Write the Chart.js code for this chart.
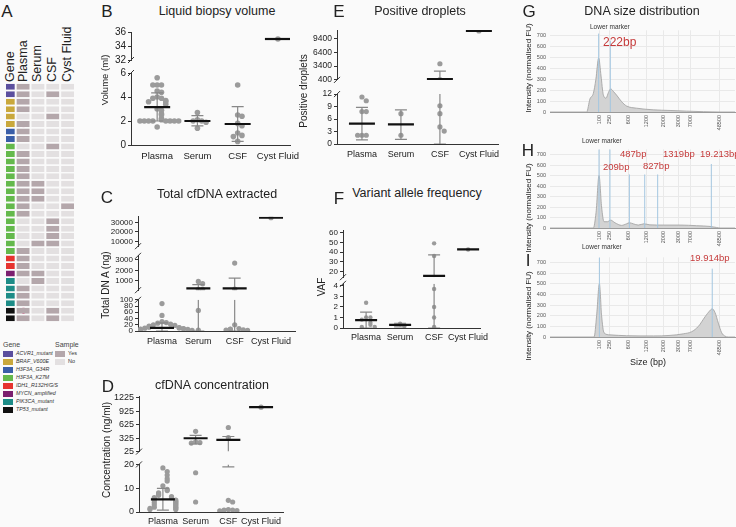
<!DOCTYPE html>
<html>
<head>
<meta charset="utf-8">
<script src="https://cdn.jsdelivr.net/npm/chart.js@4.4.1/dist/chart.umd.min.js"></script>
<style>
  body { margin: 0; background: #fafafa; }
  #fig { position: relative; width: 736px; height: 527px; overflow: hidden;
         font-family: "Liberation Sans", Arial, sans-serif; color: #222; }
  #fig canvas { position: absolute; }
  .t { position: absolute; white-space: nowrap; line-height: 1; }
</style>
</head>
<body>
<div id="fig"></div>
<script>
// ---- data ----
const groups = ["Plasma", "Serum", "CSF", "Cyst Fluid"];

// A: gene / sample heatmap (one entry per patient row)
const geneNames = ["ACVR1_mutant", "BRAF_V600E", "H3F3A_G34R", "H3F3A_K27M",
  "IDH1_R132H/G/S", "MYCN_amplified", "PIK3CA_mutant", "TP53_mutant"];
const rowGene   = [0,0,1,1,1,1,2,2,3,3,3,3,3,3,3,3,3,3,3,3,3,3,3,4,4,5,6,6,6,6,7,7];
const inPlasma  = [1,1,1,1,0,1,1,1,0,1,1,1,1,1,1,1,1,1,0,0,0,0,1,1,1,1,0,1,1,1,1,1];
const inSerum   = [0,0,0,0,0,0,0,0,0,0,0,0,0,1,1,1,0,0,0,0,0,1,0,0,0,1,1,0,0,0,0,0];
const inCsf     = [0,1,0,0,1,0,0,0,1,0,0,0,0,0,0,0,0,0,1,1,1,1,0,0,0,0,0,0,0,0,1,1];
const inCyst    = [0,0,0,0,0,0,0,0,0,0,0,0,0,0,0,0,1,0,0,0,0,0,0,0,0,0,0,0,0,0,0,0];
const flagRows  = [5, 30];

// B: liquid biopsy volume (ml)
const volPlasma = [5.6, 5.0, 5.0, 5.0, 4.5, 4.4, 4.0, 3.9, 3.9, 3.7, 3.6, 3.6, 3.4, 3.0, 2.9,
  2.6, 2.5, 2.2, 2.1, 2.0, 2.0, 2.0, 2.0, 2.0, 2.0, 2.0, 2.0, 1.5];
const volSerum = [2.7, 2.1, 2.0, 2.0, 1.9, 1.4];
const volCsf = [5.0, 2.5, 2.4, 1.8, 1.6, 1.0, 0.8, 0.7, 0.3];
const volCyst = [35];
const volMean = [3.15, 2.0, 1.75, 35];
const volLo = [2.0, 1.6, 0.3, null];
const volHi = [4.35, 2.45, 3.2, null];

// C: total cfDNA extracted (ng)
const totPlasma = [88, 50, 30, 27, 25, 22, 20, 18, 16, 14, 12, 11, 10, 9, 8, 7, 6, 5, 5, 4, 3, 2];
const totSerum = [940, 727, 180, 180, 66, 3];
const totCsf = [2700, 200, 20, 8, 6, 5, 4, 3, 2];
const totCyst = [35000];
const totMean = [10, 273, 273, 35000];
const totLo = [0, 0, 0, null];
const totHi = [26, 640, 1250, null];

// D: cfDNA concentration (ng/ml)
const conPlasma = [18.5, 17, 15.5, 14, 13, 11, 9.5, 9, 8, 7.5, 7, 6.5, 6, 6, 5.5, 5, 5, 4.5, 4,
  4, 3.5, 3, 3, 2.5, 2, 2, 1.5, 1.5, 1, 1];
const conSerum = [475, 240, 225, 215, 16.5, 4.2];
const conCsf = [560, 335, 4.9, 4.2, 1.0, 0.8, 0.8, 0.6, 0.5];
const conCyst = [1010];
const conMean = [5.3, 321, 285, 1010];
const conLo = [0.8, 194, 19, null];
const conHi = [9.9, 384, 360, null];

// E: positive droplets
const dropPlasma = [11.3, 10.4, 7.8, 7.8, 2.1, 2.1, 2.1];
const dropSerum = [7.3, 2.1];
const dropCsf = [3900, 450, 9.2, 7.3, 4.1, 3.1];
const dropCyst = [11000];
const dropMean = [4.9, 4.7, 600, 11000];
const dropLo = [1.0, 1.1, 0, null];
const dropHi = [8.8, 8.2, 2300, null];

// F: variant allele frequency
const vafPlasma = [2.4, 1.0, 1.0, 0.8, 0.5, 0.3, 0.1, 0.1];
const vafSerum = [0.4, 0.2];
const vafCsf = [49, 36, 3.7, 2.0, 1.0, 0.1];
const vafCyst = [42.7];
const vafMean = [0.75, 0.3, 15.3, 42.7];
const vafLo = [0, 0.1, 0, null];
const vafHi = [1.5, 0.45, 37, null];

// G-I: electropherograms (x = migration position, ladder labels below)
const sizeTickPos = [26.5, 32.4, 42.2, 52.4, 61.6, 69.7, 76.2, 91.4];
const sizeTickLabels = ["100", "250", "600", "1200", "2000", "3000", "7000", "48500"];
const gPos = [0, 19.8, 21.6, 23.4, 24.8, 26.3, 27.6, 28.8, 30.3, 31.6, 32.8, 34.2, 36, 38.7, 41.4, 46.8, 55.9, 64.9, 73.9, 82.9, 91.9, 100];
const gVal = [0, 0, 120, 170, 300, 495, 330, 160, 128, 180, 212, 190, 155, 95, 55, 35, 20, 14, 8, 3, 0, 0];
const hPos = [0, 23.4, 24.9, 26.5, 27.9, 29.2, 31, 32.8, 35.1, 38.7, 41.4, 42.9, 45, 47.7, 50.8, 54, 61.3, 70.3, 79.3, 86.5, 90, 91.9, 100];
const hVal = [0, 0, 150, 500, 200, 60, 60, 75, 50, 25, 40, 50, 40, 28, 40, 30, 28, 28, 22, 15, 5, 0, 0];
const iPos = [0, 23.8, 25.2, 26.7, 27.9, 29.2, 32.4, 41.4, 55.9, 64.9, 72.1, 76.6, 80.2, 83.8, 86.5, 87.7, 89.2, 91, 92.8, 94.6, 96.4, 100];
const iVal = [0, 0, 200, 500, 200, 40, 20, 12, 10, 15, 30, 50, 100, 190, 250, 265, 230, 130, 40, 8, 0, 0];
const gMarkPos = [26.3, 32.6], gMarkTop = [720, 655];
const hMarkPos = [26.5, 32.4, 42.9, 51.2, 58.2, 87.2], hMarkTop = [750, 750, 510, 510, 510, 610];
const iMarkPos = [26.7, 87.7], iMarkTop = [748, 643];

// ---- setup ----
Chart.defaults.font.family = '"Liberation Sans", Arial, sans-serif';
Chart.defaults.color = "#222";
Chart.defaults.animation = false;
Chart.defaults.responsive = false;
Chart.defaults.plugins.legend.display = false;
Chart.defaults.plugins.tooltip.enabled = false;

// axis break slashes
Chart.register({
  id: "brk",
  afterDraw(chart, args, o) {
    if (!o || (!o.top && !o.bottom)) return;
    const { ctx, chartArea: a } = chart;
    ctx.save();
    ctx.strokeStyle = "#333";
    ctx.lineWidth = 1;
    const slash = (y) => {
      ctx.beginPath();
      ctx.moveTo(a.left - 3, y + 3);
      ctx.lineTo(a.left + 3, y - 3);
      ctx.stroke();
    };
    if (o.top) slash(a.top);
    if (o.bottom) slash(a.bottom);
    ctx.restore();
  },
});

const fig = document.getElementById("fig");
function mk(left, top, width, height, config) {
  const c = document.createElement("canvas");
  c.width = width;
  c.height = height;
  c.style.left = left + "px";
  c.style.top = top + "px";
  c.style.width = width + "px";
  c.style.height = height + "px";
  fig.appendChild(c);
  return new Chart(c, config);
}

function text(str, x, y, size, opts = {}) {
  const d = document.createElement("div");
  d.className = "t";
  d.textContent = str;
  d.style.fontSize = size + "px";
  if (opts.color) d.style.color = opts.color;
  if (opts.italic) d.style.fontStyle = "italic";
  d.style.left = x + "px";
  d.style.top = y + "px";
  if (opts.vertical === "bottom") {
    d.style.left = x - size / 2 + "px";
    d.style.transformOrigin = "0 0";
    d.style.transform = "rotate(-90deg)";
  } else if (opts.vertical) {
    d.style.transform = "translate(-50%,-50%) rotate(-90deg)";
  } else if (opts.left) {
    d.style.transform = "translate(0,-50%)";
  } else {
    d.style.transform = "translate(-50%,-50%)";
  }
  fig.appendChild(d);
  return d;
}

// ---- A: heatmap ----
const geneColors = ["#5b4f9e", "#c9a83c", "#3a5ea8", "#64b94c", "#e6332f", "#7b1f6f", "#1d8c87", "#111111"];
const yesColor = "#b4a7ab", noColor = "#e3e0e1";
const colEdges = [[0, 0.72], [0.72, 1.72], [1.72, 2.72], [2.72, 3.72], [3.72, 4.72]];
const sampleCols = [inPlasma, inSerum, inCsf, inCyst];

const heatSets = [
  {
    data: rowGene.map(() => colEdges[0]),
    backgroundColor: rowGene.map((g) => geneColors[g]),
  },
].concat(sampleCols.map((col, c) => ({
  data: col.map(() => colEdges[c + 1]),
  backgroundColor: col.map((v) => (v ? yesColor : noColor)),
})));
heatSets.push({
  data: rowGene.map((g, i) => (flagRows.includes(i) ? [1.17, 1.32] : null)),
  backgroundColor: "#e0457b",
  borderWidth: 0,
});
heatSets.forEach((d) => {
  d.grouped = false;
  d.barPercentage = 0.8;
  d.categoryPercentage = 1;
  d.borderSkipped = false;
  if (d.borderWidth === undefined) {
    d.borderWidth = { left: 1, right: 1, top: 0, bottom: 0 };
    d.borderColor = "#fafafa";
  }
});
mk(5, 83, 70, 239, {
  type: "bar",
  data: { labels: rowGene.map((g, i) => i), datasets: heatSets },
  options: {
    indexAxis: "y",
    layout: { padding: 0 },
    scales: {
      x: { type: "linear", min: 0, max: 4.72, display: false },
      y: { display: false },
    },
  },
});
["Gene", "Plasma", "Serum", "CSF", "Cyst Fluid"].forEach((h, i) => {
  text(h, 10 + (i === 0 ? 0 : 13 + (i - 1) * 14.7), 82, 12.5, { vertical: "bottom" });
});
text("Gene", 3, 344, 7, { left: true, color: "#444" });
text("Sample", 55, 344, 7, { left: true, color: "#444" });
geneNames.forEach((n, i) => {
  const y = 354 + i * 8;
  const b = document.createElement("div");
  b.style.cssText = `position:absolute;left:3px;top:${y - 3}px;width:10px;height:6px;background:${geneColors[i]}`;
  fig.appendChild(b);
  text(n, 16, y, 5.3, { left: true, italic: true, color: "#333" });
});
[["Yes", yesColor], ["No", noColor]].forEach(([n, c], i) => {
  const y = 354 + i * 8;
  const b = document.createElement("div");
  b.style.cssText = `position:absolute;left:55px;top:${y - 3}px;width:10px;height:6px;background:${c}`;
  fig.appendChild(b);
  text(n, 68, y, 5.5, { left: true, color: "#333" });
});

// ---- B-F: dot plots with broken axes ----
function toPx(p, v) {
  let best = p.segs[0];
  for (const s of p.segs) {
    if (v >= s.min && v <= s.max) { best = s; break; }
    if (v > s.max) { best = s; break; }
  }
  const c = Math.min(Math.max(v, best.min), best.max);
  return best.bottom - ((c - best.min) / (best.max - best.min)) * (best.bottom - best.top);
}

function dotSets(p, s) {
  const ux = (p.right - p.axisX) / (p.xMax - p.xMin);
  const inSeg = (v) => v >= s.min && v <= s.max;
  const pts = [];
  p.values.forEach((vals, g) => {
    const placed = [];
    vals.forEach((v) => {
      const py = toPx(p, v);
      const k = placed.filter((q) => Math.abs(q - py) < 4.5).length;
      placed.push(py);
      const off = k === 0 ? 0 : (k % 2 ? 1 : -1) * Math.ceil(k / 2);
      if (inSeg(v)) pts.push({ x: g + 1 + (off * 4.3) / ux, y: v });
    });
  });
  const cap = 6 / ux, half = p.meanPx / ux;
  const sd = [], mean = [];
  const hline = (arr, x0, x1, y) => {
    if (inSeg(y)) arr.push({ x: x0, y }, { x: x1, y }, { x: x0, y: null });
  };
  p.mean.forEach((m, g) => {
    const x = g + 1;
    hline(mean, x - half, x + half, m);
    if (p.lo[g] == null) return;
    const a = Math.max(p.lo[g], s.min), b = Math.min(p.hi[g], s.max);
    if (a < b) sd.push({ x, y: a }, { x, y: b }, { x, y: null });
    hline(sd, x - cap, x + cap, p.hi[g]);
    hline(sd, x - cap, x + cap, p.lo[g]);
  });
  return [
    { data: mean, showLine: true, borderColor: "#111", borderWidth: 2.2, pointRadius: 0, order: 0 },
    { data: sd, showLine: true, borderColor: "#888", borderWidth: 1.2, pointRadius: 0, order: 1 },
    { data: pts, pointRadius: p.dot, backgroundColor: "#9b9b9b", borderWidth: 0, order: 2 },
  ];
}

function dotPanel(p) {
  const n = p.segs.length;
  p.segs.forEach((s, i) => {
    const bottomSeg = i === n - 1;
    const padT = 6, padB = bottomSeg ? 0 : 6, xH = bottomSeg ? 22 : 0;
    const left = p.axisX - p.yW;
    const h = padT + (s.bottom - s.top) + padB + xH;
    mk(left, s.top - padT, p.yW + (p.right - p.axisX) + 24, h, {
      type: "scatter",
      data: { datasets: dotSets(p, s) },
      options: {
        layout: { padding: { top: padT, bottom: padB, left: 0, right: 24 } },
        plugins: { brk: { top: i > 0, bottom: !bottomSeg } },
        scales: {
          x: {
            type: "linear", min: p.xMin, max: p.xMax, display: bottomSeg,
            afterBuildTicks: (sc) => { sc.ticks = groups.map((g, j) => ({ value: j + 1 })); },
            afterFit: (sc) => { sc.height = xH; },
            ticks: {
              callback: (v) => groups[v - 1], font: { size: p.xFont }, color: "#222",
              autoSkip: false, maxRotation: 0, minRotation: 0, padding: p.xPad,
            },
            grid: { display: false, drawTicks: false },
            border: { color: "#333", width: 1 },
          },
          y: {
            min: s.min, max: s.max,
            afterBuildTicks: (sc) => { sc.ticks = s.ticks.map((v) => ({ value: v })); },
            afterFit: (sc) => { sc.width = p.yW; },
            ticks: { callback: (v) => String(v), autoSkip: false, font: { size: p.tickFont }, color: "#222", padding: 2 },
            grid: { drawOnChartArea: false, drawTicks: true, tickLength: 3, color: "#333" },
            border: { color: "#333", width: 1 },
          },
        },
      },
    });
  });
}

dotPanel({
  axisX: 131, right: 290, xMin: 0.35, xMax: 4.3, yW: 30, tickFont: 10, xFont: 9.5, xPad: 6, dot: 2.8, meanPx: 13,
  segs: [
    { min: 32, max: 36, top: 30, bottom: 62, ticks: [32, 34, 36] },
    { min: 0, max: 6, top: 71, bottom: 145, ticks: [0, 2, 4, 6] },
  ],
  values: [volPlasma, volSerum, volCsf, volCyst], mean: volMean, lo: volLo, hi: volHi,
});
dotPanel({
  axisX: 138, right: 295, xMin: 0.34, xMax: 4.66, yW: 36, tickFont: 8, xFont: 9, xPad: 5, dot: 2.6, meanPx: 12,
  segs: [
    { min: 5000, max: 36000, top: 216, bottom: 247, ticks: [10000, 20000, 30000] },
    { min: 100, max: 3400, top: 255, bottom: 291, ticks: [1000, 2000, 3000] },
    { min: 0, max: 100, top: 299, bottom: 331, ticks: [0, 20, 40, 60, 80, 100] },
  ],
  values: [totPlasma, totSerum, totCsf, totCyst], mean: totMean, lo: totLo, hi: totHi,
});
dotPanel({
  axisX: 139, right: 283, xMin: 0.27, xMax: 4.67, yW: 32, tickFont: 9, xFont: 9, xPad: 4, dot: 2.6, meanPx: 12,
  segs: [
    { min: 25, max: 1250, top: 395, bottom: 453, ticks: [25, 325, 625, 925, 1225] },
    { min: 0, max: 20, top: 463, bottom: 512, ticks: [0, 10, 20] },
  ],
  values: [conPlasma, conSerum, conCsf, conCyst], mean: conMean, lo: conLo, hi: conHi,
});
dotPanel({
  axisX: 337, right: 498, xMin: 0.36, xMax: 4.49, yW: 30, tickFont: 8.5, xFont: 9, xPad: 5, dot: 2.6, meanPx: 13,
  segs: [
    { min: 400, max: 11200, top: 29, bottom: 81, ticks: [400, 3400, 6400, 9400] },
    { min: 0, max: 12, top: 93, bottom: 144, ticks: [0, 3, 6, 9, 12] },
  ],
  values: [dropPlasma, dropSerum, dropCsf, dropCyst], mean: dropMean, lo: dropLo, hi: dropHi,
});
dotPanel({
  axisX: 343, right: 480, xMin: 0.32, xMax: 4.35, yW: 24, tickFont: 8, xFont: 9, xPad: 4, dot: 2.2, meanPx: 11,
  segs: [
    { min: 14, max: 62, top: 230, bottom: 278, ticks: [20, 30, 40, 50, 60] },
    { min: 0, max: 4.2, top: 283, bottom: 328, ticks: [0, 1, 2, 3, 4] },
  ],
  values: [vafPlasma, vafSerum, vafCsf, vafCyst], mean: vafMean, lo: vafLo, hi: vafHi,
});

// ---- G-I: size distributions ----
function sizePanel(areaTop, areaBottom, pos, val, markPos, markTop) {
  const left = 550, yW = 20, xH = 24, padT = 4;
  const marks = [];
  markPos.forEach((p, i) => marks.push({ x: p, y: 0 }, { x: p, y: markTop[i] }, { x: p, y: null }));
  mk(left - yW, areaTop - padT, yW + 186, padT + (areaBottom - areaTop) + xH, {
    type: "scatter",
    data: {
      datasets: [
        { data: marks, showLine: true, borderColor: "#a3c6e0", borderWidth: 1, pointRadius: 0, order: 0 },
        {
          data: pos.map((x, i) => ({ x, y: val[i] })), showLine: true, fill: "origin",
          backgroundColor: "#d3d3d3", borderColor: "#9d9d9d", borderWidth: 0.8,
          pointRadius: 0, cubicInterpolationMode: "monotone", order: 1,
        },
      ],
    },
    options: {
      layout: { padding: { top: padT, right: 1, left: 0, bottom: 0 } },
      scales: {
        x: {
          type: "linear", min: 0, max: 100,
          afterBuildTicks: (sc) => { sc.ticks = sizeTickPos.map((v) => ({ value: v })); },
          afterFit: (sc) => { sc.height = xH; },
          ticks: {
            callback: (v) => sizeTickLabels[sizeTickPos.indexOf(v)], font: { size: 5.5 }, color: "#555",
            autoSkip: false, maxRotation: 90, minRotation: 90, padding: 3,
          },
          grid: { color: "#e9e9e9", drawTicks: false },
          border: { color: "#9a9a9a" },
        },
        y: {
          min: 0, max: 750,
          afterBuildTicks: (sc) => { sc.ticks = [0, 100, 200, 300, 400, 500, 600, 700].map((v) => ({ value: v })); },
          afterFit: (sc) => { sc.width = yW; },
          ticks: { font: { size: 5.5 }, color: "#555", padding: 4 },
          grid: { color: "#e9e9e9", drawTicks: false },
          border: { display: false },
        },
      },
    },
  });
}
sizePanel(27, 112, gPos, gVal, gMarkPos, gMarkTop);
sizePanel(146, 228, hPos, hVal, hMarkPos, hMarkTop);
sizePanel(254, 337, iPos, iVal, iMarkPos, iMarkTop);

// ---- text ----
[["A", 7, 11], ["B", 107, 11], ["C", 107, 197], ["D", 108, 386], ["E", 339, 11], ["F", 339, 198],
 ["G", 529, 11], ["H", 528, 150], ["I", 528, 260]].forEach(([l, x, y]) => text(l, x, y, 17));

text("Liquid biopsy volume", 217, 11, 12.5);
text("Total cfDNA extracted", 217, 194, 12.5);
text("cfDNA concentration", 212, 385, 12.5);
text("Positive droplets", 420, 11, 12.5);
text("Variant allele frequency", 417, 193, 12.5);
text("DNA size distribution", 642, 11, 12.5);

text("Volume (ml)", 105, 80, 9.5, { vertical: true });
text("Total DN A (ng)", 106, 285, 10, { vertical: true });
text("Concentration (ng/ml)", 107, 450, 10, { vertical: true });
text("Positive droplets", 304, 91, 10, { vertical: true });
text("VAF", 322, 287, 10, { vertical: true });
text("Intensity (normalised FU)", 529, 68, 8, { vertical: true });
text("Intensity (normalised FU)", 529, 208, 8, { vertical: true });
text("Intensity (normalised FU)", 529, 316, 8, { vertical: true });
text("Size (bp)", 648, 362, 9);

const red = "#c53a3a";
text("Lower marker", 590, 27, 6.5, { left: true, color: "#333" });
text("222bp", 603, 42, 12, { left: true, color: red });
text("Lower marker", 582, 141, 6.5, { left: true, color: "#333" });
text("487bp", 620, 154, 9.5, { left: true, color: red });
text("1319bp", 663, 154, 9.5, { left: true, color: red });
text("19.213bp", 700, 154, 9.5, { left: true, color: red });
text("209bp", 603, 167, 9.5, { left: true, color: red });
text("827bp", 643, 166, 9.5, { left: true, color: red });
text("Lower marker", 582, 247, 6.5, { left: true, color: "#333" });
text("19.914bp", 690, 258, 9.5, { left: true, color: red });
</script>
</body>
</html>
